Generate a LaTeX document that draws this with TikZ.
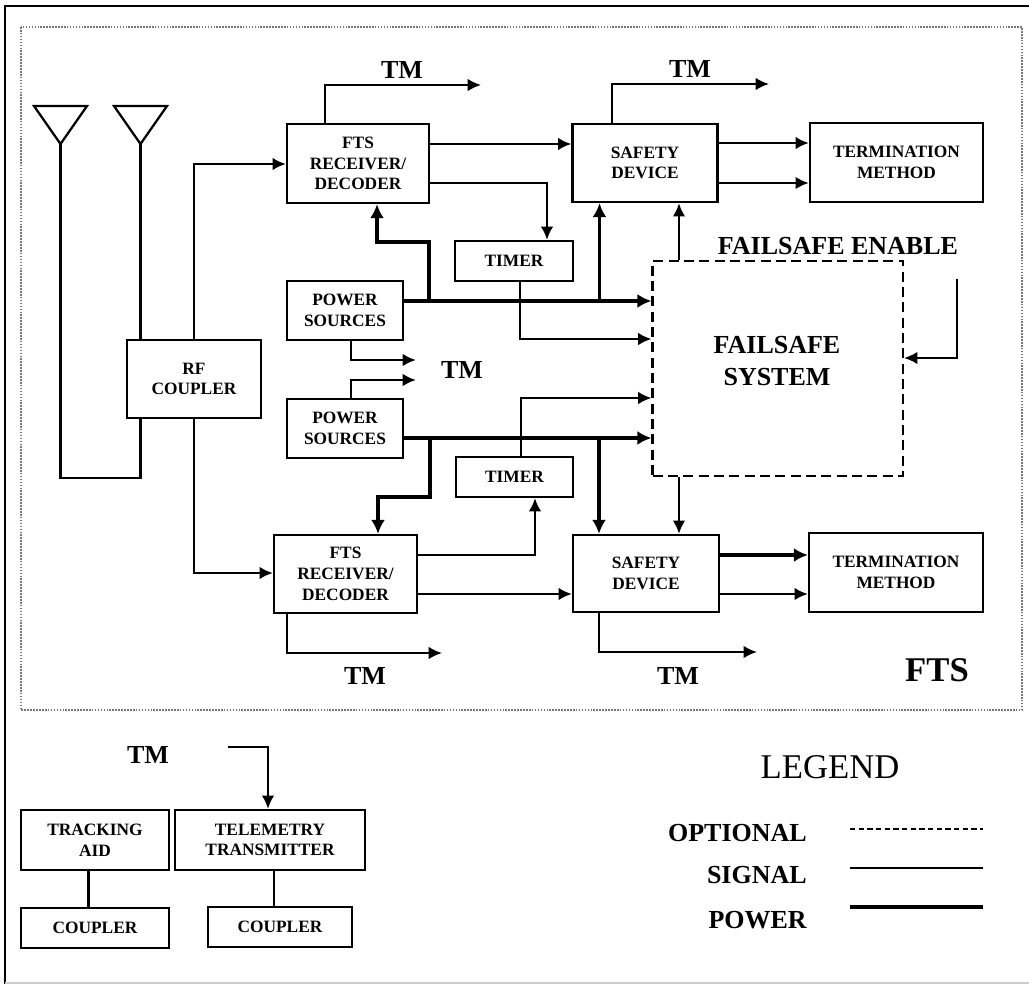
\documentclass[tikz,border=0pt]{standalone}
\usepackage{fontspec}
\setmainfont{Liberation Serif}
\usetikzlibrary{arrows.meta}
\definecolor{FrameGray}{HTML}{777777}
\definecolor{BaseGray}{HTML}{CCCCCC}

\begin{document}
\begin{tikzpicture}[
  x=0.75pt,y=-0.75pt,
  box/.style={rectangle,draw=black,line width=1.7pt,fill=white,align=center,inner sep=0pt,font=\fontsize{13}{15.5}\selectfont\bfseries},
  boxsize/.style 2 args={minimum width=#1*0.75pt,minimum height=#2*0.75pt},
  optbox/.style={rectangle,draw=black,line width=1.6pt,dash pattern=on 7.5pt off 4pt,inner sep=0pt},
  biglabel/.style={font=\fontsize{19.5}{23.5}\selectfont\bfseries,align=center,inner sep=0pt},
  legendlabel/.style={biglabel,anchor=east},
  signal/.style={-{Latex[length=10pt,width=9.5pt]},draw=black,line width=1.7pt},
  wire/.style={draw=black,line width=1.7pt},
  power/.style={-{Latex[length=10.5pt,width=10.5pt]},draw=black,line width=2.8pt}
]
\useasboundingbox (0,0) rectangle (1029,984);
\draw[black,line width=1.6pt] (5,984) -- (5,6) -- (1029,6);
\draw[BaseGray,line width=1pt] (5,983) -- (1029,983);
\draw[FrameGray,line width=1.2pt,densely dotted] (21,27) rectangle (1022,710);

% antennas
\coordinate (anta) at (60.5,144);
\coordinate (antb) at (140.5,144);
\draw[black,line width=1.7pt] (34,106) -- (87,106) -- (anta) -- cycle;
\draw[black,line width=1.7pt] (114,106) -- (167,106) -- (antb) -- cycle;

% upper chain
\node[box,boxsize={133.5}{78}] (rfc) at (194,379) {RF\\COUPLER};
\node[box,boxsize={142}{79}] (rxa) at (358,163.5) {FTS\\RECEIVER/\\DECODER};
\node[box,boxsize={145}{78}] (safa) at (645,163) {SAFETY\\DEVICE};
\node[box,boxsize={173}{79}] (terma) at (896.5,162.5) {TERMINATION\\METHOD};
\node[box,boxsize={118}{40}] (timera) at (514,261) {TIMER};
\node[box,boxsize={116}{59}] (powa) at (345,310.5) {POWER\\SOURCES};

% lower chain
\node[box,boxsize={116}{59}] (powb) at (345,428.5) {POWER\\SOURCES};
\node[box,boxsize={117}{40}] (timerb) at (514.5,477) {TIMER};
\node[box,boxsize={143}{78}] (rxb) at (345.5,574) {FTS\\RECEIVER/\\DECODER};
\node[box,boxsize={146}{77}] (safb) at (646,573.5) {SAFETY\\DEVICE};
\node[box,boxsize={174}{79}] (termb) at (896,572.5) {TERMINATION\\METHOD};

% failsafe
\node[optbox,boxsize={250.5}{215}] (fail) at (777.75,368.5) {};
\node[biglabel] (failtext) at (777,361) {FAILSAFE\\SYSTEM};
\node[biglabel] (failen) at (838,246) {FAILSAFE ENABLE};
\coordinate (failin) at (957,279);

% TM labels
\coordinate (tma) at (481,85);
\coordinate (tmb) at (769,84);
\coordinate (tmc) at (416,360);
\coordinate (tmd) at (416,380);
\coordinate (tme) at (442,653);
\coordinate (tmf) at (757,652);
\coordinate (tmg) at (228,747);
\node[biglabel] (tmlabela) at (402,70) {TM};
\node[biglabel] (tmlabelb) at (690,69) {TM};
\node[biglabel] (tmlabelc) at (462,370) {TM};
\node[biglabel] (tmlabeld) at (365,676) {TM};
\node[biglabel] (tmlabele) at (678,676) {TM};
\node[biglabel] (tmlabelf) at (148,755) {TM};
\node[font=\fontsize{26}{30}\selectfont\bfseries,inner sep=0pt] (ftslabel) at (937,670) {FTS};

% antenna feed
\draw[wire] (antb) -- (rfc.north -| antb);
\draw[wire] (anta) |- (140.5,478) -- (rfc.south -| antb);
\draw[signal] (rfc.north) |- (rxa.west |- 0,164);
\draw[signal] (rfc.south) |- (rxb.west |- 0,573);

% upper signals
\draw[signal] (rxa.north -| 325,0) |- (tma);
\draw[signal] (rxa.east |- 0,144) -- (safa.west |- 0,144);
\draw[signal] (rxa.east |- 0,183) -| (timera.north -| 547,0);
\draw[signal] (safa.north -| 612,0) |- (tmb);
\draw[signal] (safa.east |- 0,143) -- (terma.west |- 0,143);
\draw[signal,line width=2.2pt] (safa.east |- 0,183) -- (terma.west |- 0,183);
\draw[signal] (timera.south -| 520,0) |- (fail.west |- 0,339);
\draw[signal,line width=2pt] (fail.north -| 679,0) -- (safa.south -| 679,0);
\draw[signal] (failin) |- (fail.east |- 0,358);

% upper power
\draw[power] (powa.east |- 0,301) -- (fail.west |- 0,301);
\draw[power] (429,301) |- (377,242) -- (rxa.south -| 377,0);
\draw[power] (599.5,301) -- (safa.south -| 599.5,0);
\draw[signal,line width=2pt] (powa.south -| 351,0) |- (tmc);
\draw[signal,line width=2pt] (powb.north -| 351,0) |- (tmd);

% lower signals
\draw[signal] (timerb.north -| 521,0) |- (fail.west |- 0,398);
\draw[signal] (rxb.east |- 0,555) -| (timerb.south -| 535,0);
\draw[signal] (rxb.east |- 0,594) -- (safb.west |- 0,594);
\draw[signal] (rxb.south -| 287,0) |- (tme);
\draw[signal] (safb.south -| 599,0) |- (tmf);
\draw[signal,line width=2pt] (fail.south -| 679,0) -- (safb.north -| 679,0);
\draw[signal] (safb.east |- 0,594) -- (termb.west |- 0,594);

% lower power
\draw[power] (powb.east |- 0,438) -- (fail.west |- 0,438);
\draw[power] (430,438) |- (378,497) -- (rxb.north -| 378,0);
\draw[power] (599,438) -- (safb.north -| 599,0);
\draw[power] (safb.east |- 0,555) -- (termb.west |- 0,555);

% tracking and telemetry
\node[box,boxsize={148}{60}] (track) at (95,840) {TRACKING\\AID};
\node[box,boxsize={190.5}{60}] (telem) at (270,840) {TELEMETRY\\TRANSMITTER};
\node[box,boxsize={148}{40}] (cpa) at (95,928) {COUPLER};
\node[box,boxsize={144}{40}] (cpb) at (280,927) {COUPLER};
\draw[wire] (track.south -| 88.5,0) -- (cpa.north -| 88.5,0);
\draw[wire] (telem.south -| 274,0) -- (cpb.north -| 274,0);
\draw[signal] (tmg) -| (telem.north -| 268,0);

% legend
\node[font=\fontsize{26}{30}\selectfont,inner sep=0pt] (legend) at (830,767) {LEGEND};
\node[legendlabel] (optlabel) at (807,833) {OPTIONAL};
\node[legendlabel] (siglabel) at (807,875) {SIGNAL};
\node[legendlabel] (powlabel) at (807,920) {POWER};
\coordinate (optend) at (983,829);
\coordinate (sigend) at (983,868);
\coordinate (powend) at (983,907);
\draw[black,line width=1.5pt,dash pattern=on 4pt off 2.5pt] (850,829) -- (optend);
\draw[black,line width=1.7pt] (850,868) -- (sigend);
\draw[black,line width=2.8pt] (850,907) -- (powend);
\end{tikzpicture}
\end{document}
